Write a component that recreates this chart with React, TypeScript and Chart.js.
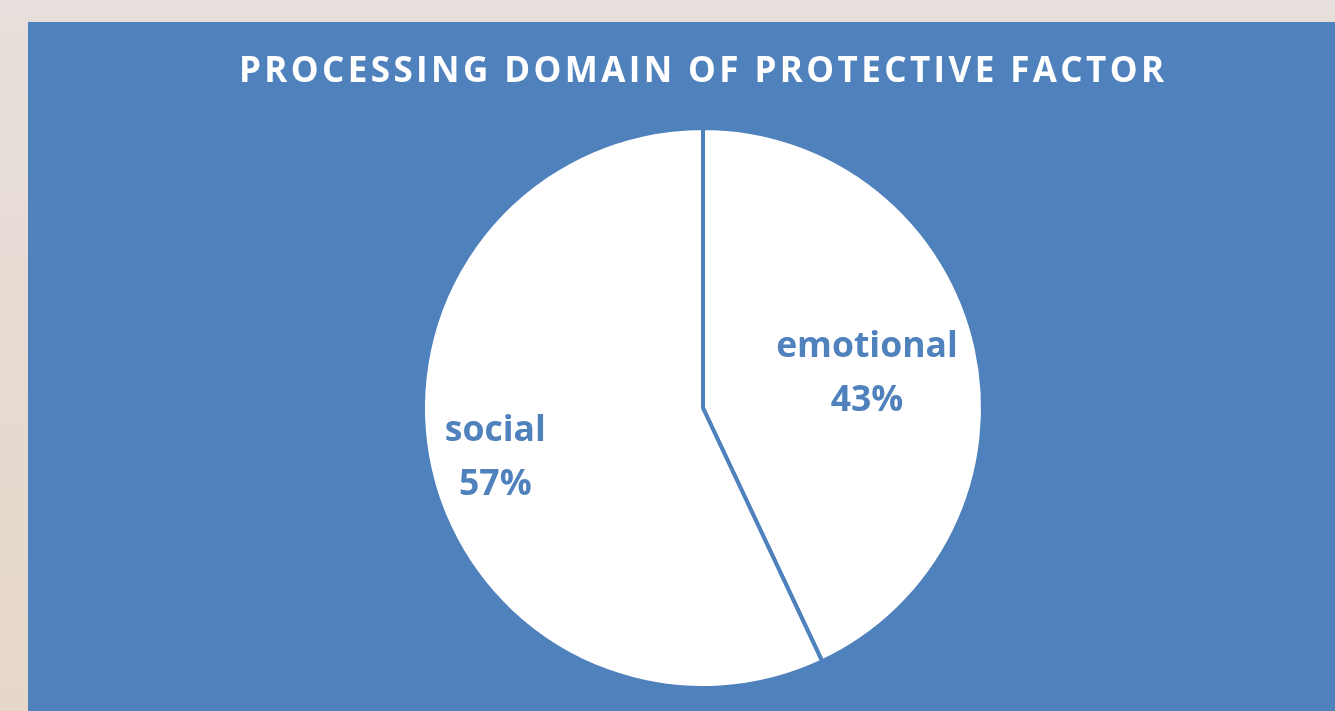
import React, { useEffect, useRef } from "react";
import { Chart, registerables } from "chart.js";

Chart.register(...registerables);

const TITLE = "PROCESSING DOMAIN OF PROTECTIVE FACTOR";
const categories = ["emotional", "social"];
const values = [43, 57];

const BLUE = "#4f81bd";
const labelRadiusFactors = [0.6, 0.76];

const titlePlugin = {
  id: "spacedTitle",
  afterDraw(chart: any) {
    const ctx = chart.ctx;
    ctx.save();
    ctx.font = "bold 35px 'Open Sans'";
    (ctx as any).letterSpacing = "3.4px";
    ctx.fillStyle = "#ffffff";
    ctx.textAlign = "center";
    ctx.textBaseline = "middle";
    ctx.fillText(TITLE, 673.5 + 1.7, 50);
    ctx.restore();
  },
};

const labelPlugin = {
  id: "sliceLabels",
  afterDatasetsDraw(chart: any) {
    const ctx = chart.ctx;
    const meta = chart.getDatasetMeta(0);
    const total = values.reduce((a, b) => a + b, 0);
    ctx.save();
    ctx.font = "bold 35.5px 'Open Sans'";
    ctx.fillStyle = BLUE;
    ctx.textAlign = "center";
    ctx.textBaseline = "middle";
    meta.data.forEach((arc: any, i: number) => {
      const { x, y, startAngle, endAngle, outerRadius } = arc.getProps([
        "x",
        "y",
        "startAngle",
        "endAngle",
        "outerRadius",
      ]);
      const mid = (startAngle + endAngle) / 2;
      const r = outerRadius * labelRadiusFactors[i];
      const cx = x + Math.cos(mid) * r;
      const cy = y + Math.sin(mid) * r + 3;
      const pct = Math.round((values[i] / total) * 100) + "%";
      ctx.fillText(categories[i], cx, cy - 27);
      ctx.fillText(pct, cx, cy + 27);
    });
    ctx.restore();
  },
};

export default function App() {
  const canvasRef = useRef<HTMLCanvasElement | null>(null);

  useEffect(() => {
    if (!canvasRef.current) return;
    const chart = new Chart(canvasRef.current, {
      type: "pie",
      data: {
        labels: categories,
        datasets: [
          {
            data: values,
            backgroundColor: ["#ffffff", "#ffffff"],
            borderColor: BLUE,
            borderWidth: 4,
            hoverOffset: 0,
          },
        ],
      },
      options: {
        responsive: false,
        animation: false,
        events: [],
        layout: { padding: { top: 104, bottom: 21, left: 43, right: 0 } },
        plugins: {
          legend: { display: false },
          tooltip: { enabled: false },
          title: { display: false },
        },
      },
      plugins: [labelPlugin, titlePlugin],
    });
    const fonts: any = (document as any).fonts;
    if (fonts && fonts.load) {
      Promise.all([
        fonts.load("bold 35px 'Open Sans'"),
        fonts.load("bold 35.5px 'Open Sans'"),
      ]).then(() => chart.draw()).catch(() => {});
    }
    return () => chart.destroy();
  }, []);

  return (
    <div
      style={{
        position: "fixed",
        left: 0,
        top: 0,
        width: 1335,
        height: 711,
        overflow: "hidden",
        background: "linear-gradient(to bottom, #e7dfdb, #e6d7c9)",
      }}
    >
      <canvas
        ref={canvasRef}
        width={1307}
        height={689}
        style={{
          position: "absolute",
          left: 28,
          top: 22,
          width: 1307,
          height: 689,
          background: BLUE,
        }}
      />
    </div>
  );
}
